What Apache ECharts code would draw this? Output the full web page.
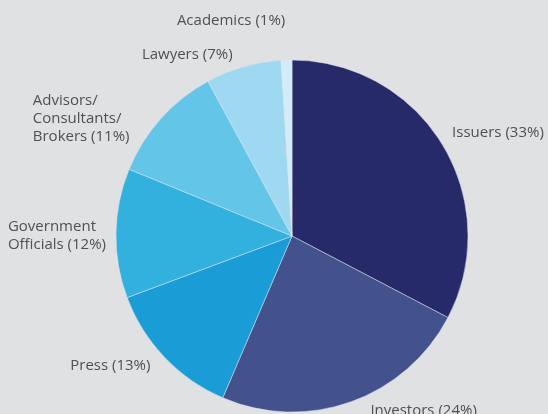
<!DOCTYPE html>
<html lang="en">
<head>
    <meta charset="UTF-8">
    <title>Pie</title>
    <style>
        html, body { margin: 0; padding: 0; background: #e0e1e3; }
        .div { width: 548px; height: 414px; }
    </style>
</head>
<body>
    <div class="div"></div>
    <script src="https://cdn.jsdelivr.net/npm/echarts@6/dist/echarts.min.js"></script>
    <script>
        var names = ['Issuers', 'Investors', 'Press', 'Government\nOfficials', 'Advisors/\nConsultants/\nBrokers', 'Lawyers', 'Academics']
        var values = [33, 24, 13, 12, 11, 7, 1]
        var colors = ['#262a69', '#43528c', '#1a9cd7', '#32b0de', '#63c5e8', '#9ed8f1', '#d3edf8']
        // small nudges so labels sit where the original has them
        var nudgeX = [-4, 11, -2, 5, -19, -3, 4]
        var nudgeY = [-7, 0, 1, 3, 7, -3, -29]

        var myecharts = echarts.init(document.getElementsByClassName('div')[0]);
        var pieData = names.map(function (n, i) {
            return { name: n, value: values[i], itemStyle: { color: colors[i] } }
        })
        var option = {
            backgroundColor: '#e0e1e3',
            animation: false,
            series: [
                {
                    type: 'pie',
                    center: [292, 236],
                    radius: 176,
                    startAngle: 90,
                    avoidLabelOverlap: false,
                    data: pieData,
                    itemStyle: { borderColor: '#dfe3ea', borderWidth: 0.5 },
                    label: {
                        position: 'outside',
                        formatter: '{b} ({c}%)',
                        fontFamily: 'Open Sans',
                        fontSize: 15,
                        lineHeight: 18,
                        color: '#505050'
                    },
                    labelLine: { show: false, length: 10, length2: 0 },
                    // left side labels keep their lines left aligned
                    labelLayout: function (p) {
                        var i = p.dataIndex
                        if (p.align === 'right') {
                            return { align: 'left', dx: -p.labelRect.width + nudgeX[i], dy: nudgeY[i] }
                        }
                        return { dx: nudgeX[i], dy: nudgeY[i] }
                    }
                }
            ]
        }
        myecharts.setOption(option);
    </script>
</body>
</html>
